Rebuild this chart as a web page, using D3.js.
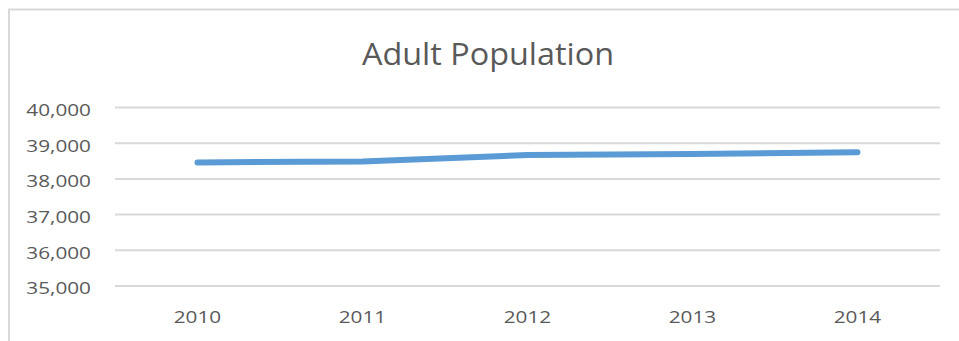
<!DOCTYPE html>
<html>
<head>
<meta charset="utf-8">
<script src="https://cdn.jsdelivr.net/npm/d3@7"></script>
<style>
  html, body { margin: 0; padding: 0; background: #fff; }
  svg { display: block; }
  text { font-family: "Open Sans", Lato, sans-serif; fill: #595959; }
</style>
</head>
<body>
<script>
const years = ["2010", "2011", "2012", "2013", "2014"];
const adults = [38460, 38490, 38670, 38700, 38745];
const yTicks = [35000, 36000, 37000, 38000, 39000, 40000];
const chartTitle = "Adult Population";

const W = 959, H = 341;
const plot = { left: 115, right: 940, top: 107.5, bottom: 286 };
const labelStretch = 1.22;   // axis labels are set slightly wide
const titleWidth = 252;

const svg = d3.select("body").append("svg")
  .attr("width", W).attr("height", H);

// chart frame (runs past the right and bottom edges)
svg.append("rect")
  .attr("x", 9).attr("y", 9.5)
  .attr("width", W + 20).attr("height", H + 20)
  .attr("fill", "#fff")
  .attr("stroke", "#d9d9d9").attr("stroke-width", 2);

const x = d3.scaleBand()
  .domain(years)
  .range([plot.left, plot.right])
  .paddingInner(0).paddingOuter(0);

const y = d3.scaleLinear()
  .domain([35000, 40000])
  .range([plot.bottom, plot.top]);

// horizontal gridlines
svg.append("g")
  .selectAll("line")
  .data(yTicks)
  .join("line")
  .attr("x1", plot.left).attr("x2", plot.right)
  .attr("y1", d => y(d)).attr("y2", d => y(d))
  .attr("stroke", "#d9d9d9").attr("stroke-width", 2);

// widen a label in place by the given factor
function stretch(sel, k) {
  sel.each(function () {
    const n = this.getComputedTextLength();
    d3.select(this)
      .attr("textLength", n * k)
      .attr("lengthAdjust", "spacingAndGlyphs");
  });
}

// y axis labels
const fmt = d3.format(",");
svg.append("g")
  .selectAll("text")
  .data(yTicks)
  .join("text")
  .attr("x", 91).attr("y", d => y(d) + 2.5)
  .attr("dy", "0.35em")
  .attr("text-anchor", "end")
  .style("font-size", "17px")
  .text(d => fmt(d))
  .call(stretch, labelStretch);

// x axis labels
svg.append("g")
  .selectAll("text")
  .data(years)
  .join("text")
  .attr("x", d => x(d) + x.bandwidth() / 2)
  .attr("y", 317.5)
  .attr("dy", "0.35em")
  .attr("text-anchor", "middle")
  .style("font-size", "17px")
  .text(d => d)
  .call(stretch, labelStretch);

// series line
const line = d3.line()
  .x((d, i) => x(years[i]) + x.bandwidth() / 2)
  .y(d => y(d));

svg.append("path")
  .datum(adults)
  .attr("d", line)
  .attr("fill", "none")
  .attr("stroke", "#5b9bd5")
  .attr("stroke-width", 6)
  .attr("stroke-linecap", "round")
  .attr("stroke-linejoin", "round");

// title
svg.append("text")
  .attr("x", 488).attr("y", 64.5)
  .attr("text-anchor", "middle")
  .style("font-size", "31px")
  .attr("textLength", titleWidth)
  .attr("lengthAdjust", "spacingAndGlyphs")
  .text(chartTitle);
</script>
</body>
</html>
